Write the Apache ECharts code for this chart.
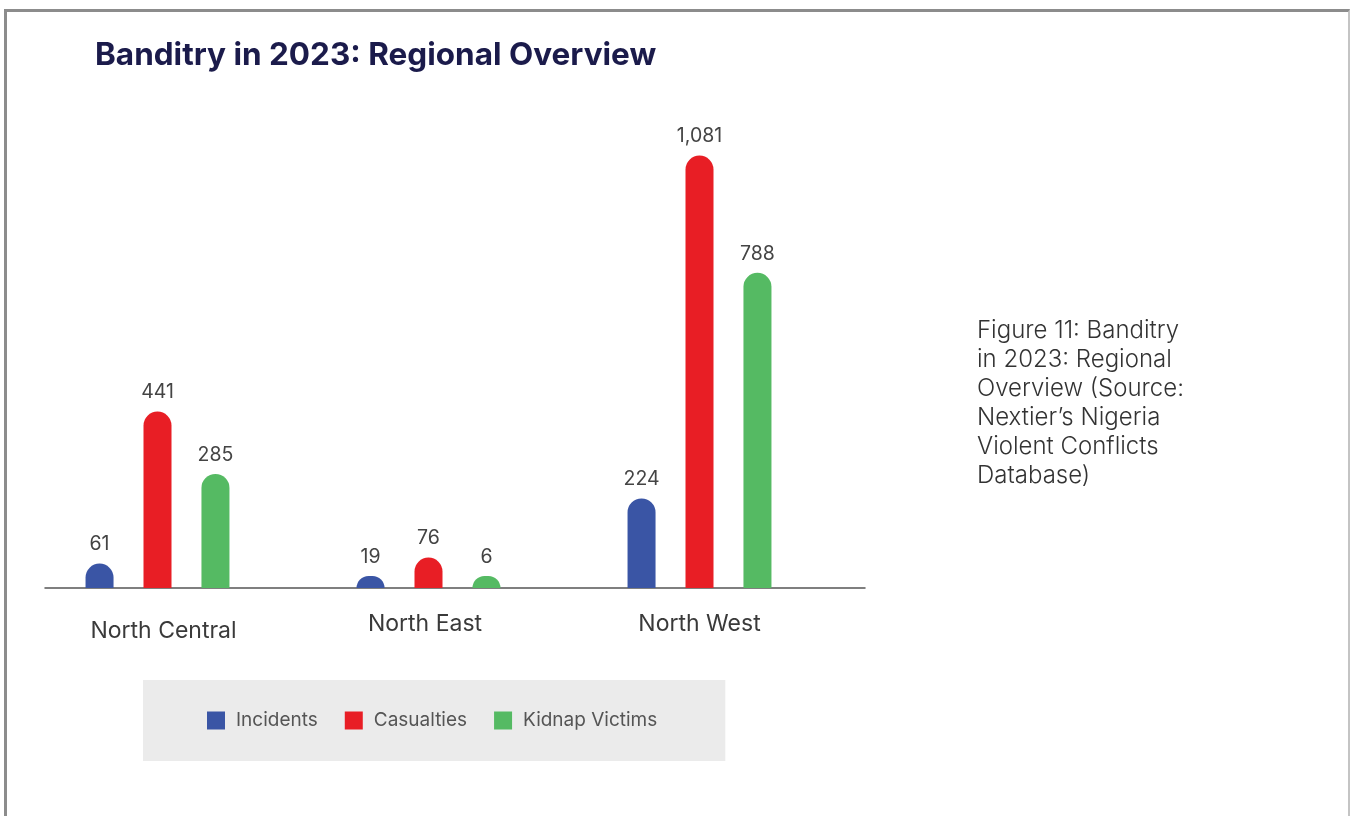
<!DOCTYPE html>
<html>
<head>
<meta charset="utf-8">
<title>Banditry in 2023: Regional Overview</title>
<script src="https://cdn.jsdelivr.net/npm/echarts@6/dist/echarts.min.js"></script>
<style>
  html, body { margin: 0; padding: 0; background: #fff; overflow: hidden; }
  #frame {
    position: absolute; left: 4px; top: 9px; width: 1346px; height: 900px;
    border-top: 3px solid #8c8c8c; border-left: 3px solid #8c8c8c;
    border-right: 2px solid #c4c4c4; box-sizing: border-box;
  }
  #chart { position: absolute; left: 0; top: 0; width: 1355px; height: 816px; }
</style>
</head>
<body>
<div id="frame"></div>
<div id="chart"></div>
<script>
// Regions and counts per region
const regions = ['North Central', 'North East', 'North West'];
const incidents = [61, 19, 224];
const casualties = [441, 76, 1081];
const kidnapVictims = [285, 6, 788];
const seriesNames = ['Incidents', 'Casualties', 'Kidnap Victims'];
const seriesColors = ['#3a55a5', '#e81e25', '#55ba63'];
const noteText = 'Figure 11: Banditry\nin 2023: Regional\nOverview (Source:\nNextier\u2019s Nigeria\nViolent Conflicts\nDatabase)';

const font = 'Inter, "Noto Sans", sans-serif';
const chart = echarts.init(document.getElementById('chart'), null, { renderer: 'canvas' });

// per-category label nudges for the region names
const labelPads = [[7, 0, 0, 12], [0, 7, 0, 0], [0, 0, 0, 0]];

function barSeries(name, values, color) {
  return {
    name: name,
    type: 'bar',
    xAxisIndex: 0,
    yAxisIndex: 0,
    data: values,
    barWidth: 28,
    barGap: '107%',
    barMinHeight: 12,
    itemStyle: { color: color, borderRadius: [14, 14, 0, 0] },
    label: {
      show: true,
      position: 'top',
      distance: 9,
      fontFamily: font,
      fontSize: 19.5,
      color: '#444',
      formatter: p => Number(p.value).toLocaleString('en-US')
    }
  };
}

chart.setOption({
  animation: false,
  backgroundColor: 'transparent',
  title: [
    {
      text: 'Banditry in 2023: Regional Overview',
      left: 90,
      top: 35,
      textStyle: { fontFamily: font, fontSize: 31.5, fontWeight: 700, color: '#1b1b4b' }
    },
    {
      text: noteText,
      left: 972,
      top: 311,
      textStyle: { fontFamily: font, fontSize: 24, fontWeight: 300, color: '#333', lineHeight: 29 }
    }
  ],
  legend: {
    data: seriesNames,
    left: 143,
    top: 680,
    padding: [31, 68, 31, 64],
    backgroundColor: '#ebebeb',
    icon: 'rect',
    itemWidth: 18,
    itemHeight: 18,
    itemGap: 27,
    textStyle: { fontFamily: font, fontSize: 19, color: '#555', padding: [0, 0, 0, 6] }
  },
  grid: [
    { left: 22, width: 813, top: 108, bottom: 228 },
    { left: 45, width: 820, top: 108, bottom: 228 }
  ],
  xAxis: [
    {
      type: 'category',
      gridIndex: 0,
      data: regions.map((r, i) => ({ value: r, textStyle: { padding: labelPads[i] } })),
      axisLine: { show: false },
      axisTick: { show: false },
      axisLabel: { margin: 25, fontFamily: font, fontSize: 23, color: '#3a3a3a' }
    },
    {
      type: 'category',
      gridIndex: 1,
      data: regions,
      axisLine: { show: true, lineStyle: { color: '#555', width: 1.5 } },
      axisTick: { show: false },
      axisLabel: { show: false }
    }
  ],
  yAxis: [
    { type: 'value', gridIndex: 0, min: 0, max: 1200, show: false },
    { type: 'value', gridIndex: 1, min: 0, max: 1200, show: false }
  ],
  series: [
    barSeries(seriesNames[0], incidents, seriesColors[0]),
    barSeries(seriesNames[1], casualties, seriesColors[1]),
    barSeries(seriesNames[2], kidnapVictims, seriesColors[2])
  ]
});
</script>
</body>
</html>
